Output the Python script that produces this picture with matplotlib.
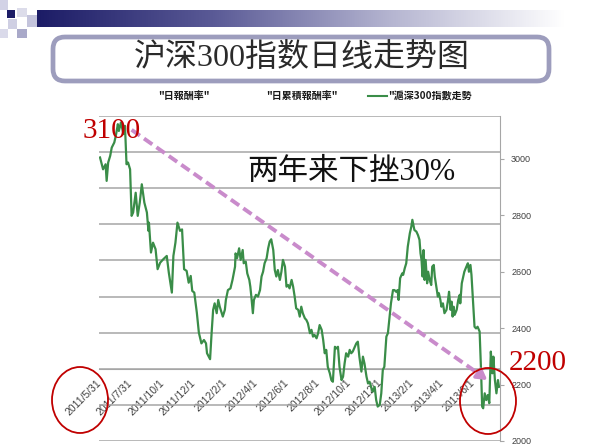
import matplotlib
matplotlib.use('Agg')
import matplotlib.pyplot as plt
import numpy as np
import pandas as pd
from matplotlib.patches import FancyBboxPatch, Rectangle, Ellipse
from matplotlib.lines import Line2D
from matplotlib.colors import LinearSegmentedColormap

# ---------------- data ----------------
start_date = '2011-05-31'
day_offsets = [0, 6, 11, 13, 16, 20, 23, 28, 31, 35, 37, 41, 46, 49, 52, 55, 59, 62, 65, 70,
               74, 78, 82, 87, 92, 95, 96, 100, 104, 109, 113, 118, 124, 131, 135, 141, 144, 148, 152, 157,
               161, 165, 170, 174, 178, 181, 185, 190, 194, 199, 204, 208, 210, 216, 219, 222, 225, 229, 232, 235,
               241, 245, 247, 251, 256, 260, 265, 266, 269, 273, 276, 280, 282, 286, 289, 293, 295, 297, 300, 302,
               306, 310, 314, 317, 320, 323, 327, 330, 333, 336, 340, 343, 346, 349, 353, 356, 359, 363, 366, 369,
               372, 376, 379, 382, 385, 389, 392, 395, 398, 402, 405, 408, 412, 415, 418, 421, 425, 428, 431, 435,
               438, 441, 444, 447, 451, 454, 457, 461, 464, 467, 470, 474, 477, 480, 483, 487, 490, 493, 496, 500,
               503, 506, 509, 513, 516, 519, 523, 526, 529, 532, 535, 539, 542, 545, 549, 552, 555, 558, 562, 565,
               568, 571, 575, 578, 581, 584, 586, 589, 593, 595, 598, 601, 604, 608, 611, 613, 615, 617, 621, 624,
               627, 629, 631, 633, 635, 637, 639, 642, 644, 647, 650, 652, 655, 657, 660, 663, 665, 668, 670, 673,
               676, 680, 683, 685, 688, 690, 692, 694, 696, 700, 703, 706, 707, 710, 713, 715, 719, 722, 724, 727,
               729, 732, 735, 738, 741, 745, 748, 750, 752, 755, 758, 761, 764, 767, 770, 772, 775, 778, 781, 783]
csi300 = [3005, 2963, 2981, 2922, 2987, 3011, 3040, 3058, 3082, 3123, 3099, 3129, 3088, 3117, 2981, 2987, 2963, 2798, 2810, 2880,
          2798, 2845, 2910, 2845, 2810, 2745, 2774, 2668, 2703, 2680, 2609, 2632, 2644, 2656, 2597, 2526, 2656, 2703, 2774, 2745,
          2750, 2609, 2603, 2561, 2585, 2532, 2526, 2455, 2384, 2346, 2358, 2346, 2311, 2290, 2383, 2465, 2488, 2453, 2500, 2476,
          2441, 2465, 2500, 2535, 2541, 2571, 2618, 2665, 2648, 2683, 2642, 2677, 2630, 2636, 2594, 2571, 2547, 2512, 2453, 2500,
          2518, 2512, 2535, 2583, 2600, 2630, 2648, 2683, 2707, 2715, 2677, 2606, 2583, 2606, 2571, 2600, 2642, 2618, 2547, 2553,
          2541, 2571, 2547, 2512, 2470, 2465, 2441, 2476, 2453, 2435, 2429, 2417, 2382, 2394, 2370, 2376, 2364, 2382, 2411, 2394,
          2358, 2311, 2323, 2263, 2240, 2216, 2210, 2334, 2328, 2334, 2263, 2216, 2228, 2275, 2311, 2299, 2323, 2311, 2317, 2334,
          2346, 2352, 2299, 2246, 2299, 2275, 2228, 2204, 2210, 2192, 2175, 2192, 2145, 2122, 2128, 2169, 2252, 2263, 2370, 2382,
          2435, 2488, 2535, 2535, 2529, 2535, 2500, 2577, 2594, 2589, 2612, 2630, 2689, 2736, 2760, 2784, 2766, 2748, 2742, 2730,
          2713, 2665, 2642, 2583, 2677, 2571, 2642, 2559, 2600, 2571, 2553, 2618, 2624, 2583, 2547, 2512, 2524, 2500, 2476, 2488,
          2453, 2465, 2500, 2529, 2465, 2494, 2441, 2476, 2447, 2465, 2500, 2518, 2488, 2559, 2583, 2600, 2618, 2630, 2600, 2624,
          2589, 2500, 2405, 2399, 2405, 2388, 2240, 2122, 2116, 2169, 2145, 2163, 2134, 2317, 2240, 2299, 2216, 2169, 2216, 2192]
tick_labels = ['2011/5/31', '2011/7/31', '2011/10/1', '2011/12/1', '2012/2/1', '2012/4/1', '2012/6/1',
               '2012/8/1', '2012/10/1', '2012/12/1', '2013/2/1', '2013/4/1', '2013/6/1']
price_ticks = [2000, 2200, 2400, 2600, 2800, 3000]
legend_labels = ['"日報酬率"', '"日累積報酬率"', '"滬深300指數走勢']
title = '沪深300指数日线走势图'
note_text = '两年来下挫30%'
high_label, low_label = '3100', '2200'
assert len(day_offsets) == len(csi300)

# ---------------- figure ----------------
W, H = 600, 447
fig = plt.figure(figsize=(6, 4.47), dpi=100)
fig.patch.set_facecolor('white')

def fx(x):
    return x / W

def fy(y):
    return 1 - y / H

# header gradient bar
bar = fig.add_axes([fx(37), fy(27), fx(565) - fx(37), 17 / H])
cmap = LinearSegmentedColormap.from_list('g', ['#1c1c66', '#5a5a96', '#b4b4d0', '#ffffff'])
bar.imshow(np.linspace(0, 1, 256)[None, :], aspect='auto', cmap=cmap, extent=[0, 1, 0, 1])
bar.axis('off')

squares = [((0, 0, 8, 10), '#d2d2e6'), ((7, 10, 8, 8), '#1c1c66'), ((17, 8, 10, 9), '#dcdcea'),
           ((27, 15, 10, 12), '#c4c4dc'), ((8, 19, 9, 10), '#cfcfe3'), ((17, 29, 10, 9), '#a9a9c9'),
           ((0, 29, 8, 9), '#dadaea')]
for (x0, y0, w, h), c in squares:
    fig.patches.append(Rectangle((fx(x0), fy(y0 + h)), w / W, h / H, transform=fig.transFigure,
                                 facecolor=c, edgecolor='none'))

# title box
fig.patches.append(FancyBboxPatch((fx(53), fy(81)), (549 - 53) / W, (81 - 37) / H,
                                  boxstyle='round,pad=0,rounding_size=0.02', mutation_aspect=W / H,
                                  transform=fig.transFigure, facecolor='white', edgecolor='#9d9dbd', lw=3.4))
fig.text(fx(302), fy(59), title, fontsize=23, family=['Liberation Serif', 'Noto Sans CJK SC'],
         ha='center', va='center', color='#2a2a2a', fontweight='light')

# legend (manual)
leg_font = dict(fontsize=7.2, fontweight='bold', family=['Noto Sans CJK TC', 'DejaVu Sans'], color='#1a1a1a', va='center')
fig.text(fx(184), fy(96), legend_labels[0], ha='center', **leg_font)
fig.text(fx(302), fy(96), legend_labels[1], ha='center', **leg_font)
fig.lines.append(Line2D([fx(368), fx(387)], [fy(96), fy(96)], transform=fig.transFigure, color='#3a8d48', lw=1.5))
fig.text(fx(388), fy(96), legend_labels[2], ha='left', **leg_font)

# main axes
start = np.datetime64(start_date)
dates = start + np.array(day_offsets).astype('timedelta64[D]')
tick_pos = pd.to_datetime(tick_labels, format='%Y/%m/%d')

ax = fig.add_axes([fx(99), fy(441), (500 - 99) / W, (441 - 116) / H])
ax.set_ylim(0, 9)
ax.set_yticks(range(10))
ax.yaxis.grid(True, color='#a6a6a6', lw=1.1)
ax.tick_params(axis='y', length=0, labelleft=False)
for s in ['left', 'right', 'top']:
    ax.spines[s].set_visible(False)
ax.spines['bottom'].set_position(('data', 2))
ax.spines['bottom'].set_color('#a6a6a6')
ax.set_xlim(start - np.timedelta64(2, 'D'), start + np.timedelta64(785, 'D'))
ax.set_xticks(tick_pos)
ax.set_xticklabels(tick_labels, rotation=45, ha='right', va='center', rotation_mode='anchor',
                   fontsize=7.5, color='#404040', family='Liberation Sans')
ax.tick_params(axis='x', length=0, pad=9)

ax2 = ax.twinx()
ax2.plot(dates, csi300, color='#3a8d48', lw=1.6, zorder=3)
ax2.set_ylim(2000, 3152)
ax2.set_yticks(price_ticks)
ax2.set_yticklabels([str(v) for v in price_ticks], fontsize=6.5, color='#404040', family='Liberation Sans')
ax2.tick_params(axis='y', direction='out', length=3, color='#a6a6a6', pad=5)
for s in ['left', 'top', 'bottom']:
    ax2.spines[s].set_visible(False)
ax2.spines['right'].set_color('#a6a6a6')

# dashed trend arrow
arrow_c = '#c98bcb'
a0 = (start + np.timedelta64(62, 'D'), 3103)
a1 = (start + np.timedelta64(745, 'D'), 2236)
a2 = (start + np.timedelta64(760, 'D'), 2216)
ax2.plot([a0[0], a1[0]], [a0[1], a1[1]], ls=(0, (2.6, 1.3)), color=arrow_c, lw=2.8, zorder=4)
ax2.annotate('', xy=a2, xytext=a1,
             arrowprops=dict(arrowstyle='-|>,head_length=0.6,head_width=0.35', color=arrow_c, lw=2.5,
                             shrinkA=0, shrinkB=0), zorder=4)

# annotations
fig.text(fx(112), fy(131), high_label, fontsize=21, family='Liberation Serif', color='#c00000',
         ha='center', va='center')
fig.text(fx(538), fy(363), low_label, fontsize=21, family='Liberation Serif', color='#c00000',
         ha='center', va='center')
fig.text(fx(351), fy(172), note_text, fontsize=22, family=['Liberation Serif', 'Noto Sans CJK SC'],
         color='#111111', ha='center', va='center', fontweight='light')

for cx, cy in [(80, 400), (488, 401)]:
    fig.patches.append(Ellipse((fx(cx), fy(cy)), 56 / W, 66 / H, transform=fig.transFigure,
                               fill=False, edgecolor='#c00000', lw=1.3))

fig.savefig('out.png', dpi=100)
